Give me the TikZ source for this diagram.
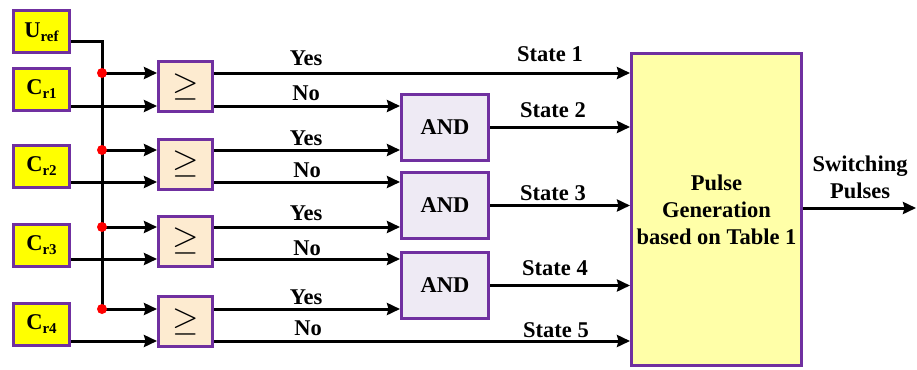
\RequirePackage{fix-cm}
\documentclass[tikz,border=0pt]{standalone}
\usepackage{fontspec}
\setmainfont{Liberation Serif}
\usetikzlibrary{arrows.meta}
\definecolor{pbord}{HTML}{7030A0}
\definecolor{inyel}{HTML}{FFFF00}
\definecolor{cmpfill}{HTML}{FDEBD0}
\definecolor{andfill}{HTML}{EEEAF4}
\definecolor{bigfill}{HTML}{FFFFA8}
\newcommand\lowsub[1]{\raisebox{-4pt}{\fontsize{15}{15}\selectfont #1}}
\begin{document}
\begin{tikzpicture}[x=1pt,y=-1pt,
  box/.style={draw=pbord, line width=3pt, inner sep=0pt, font=\fontsize{22.5}{27}\selectfont\bfseries},
  inbox/.style={box, fill=inyel, minimum width=56pt, minimum height=42pt},
  cmpbox/.style={box, fill=cmpfill, minimum width=54pt, minimum height=50pt, font=\fontsize{34}{34}\selectfont},
  andbox/.style={box, fill=andfill, minimum width=87pt, minimum height=66pt},
  wire/.style={line width=3pt},
  arr/.style={wire, -{Stealth[length=13pt,width=12pt,inset=1.5pt]}},
  lbl/.style={font=\fontsize{22.5}{27}\selectfont\bfseries, anchor=base, inner sep=0pt},
  dot/.style={circle, fill=red, inner sep=0pt, minimum size=10pt}]
\useasboundingbox (0,0) rectangle (917,369);
\fill[white] (0,0) rectangle (917,369);
% inputs
\node[inbox] (uref) at (41.5,32) {U\lowsub{ref}};
\node[inbox] (cr1) at (41.5,89) {C\lowsub{r1}};
\node[inbox] (cr2) at (41.5,166.5) {C\lowsub{r2}};
\node[inbox] (cr3) at (41.5,245) {C\lowsub{r3}};
\node[inbox] (cr4) at (41.5,324.5) {C\lowsub{r4}};
% comparators
\node[cmpbox] (cmp1) at (185.5,86.5) {$\geq$};
\node[cmpbox] (cmp2) at (185.5,164) {$\geq$};
\node[cmpbox] (cmp3) at (185.5,241) {$\geq$};
\node[cmpbox] (cmp4) at (185.5,321.5) {$\geq$};
% AND gates
\node[andbox] (and1) at (445,127) {AND};
\node[andbox] (and2) at (445,205.5) {AND};
\node[andbox] (and3) at (445,285.5) {AND};
% pulse generation
\node[box, fill=bigfill, minimum width=170pt, minimum height=312pt, align=center] (big) at (716.5,209.5) {Pulse\\Generation\\based on Table 1};
% coordinates
\coordinate (uc) at (102,42);
\coordinate (p1) at (102,73);
\coordinate (p2) at (102,150);
\coordinate (p3) at (102,227);
\coordinate (p4) at (102,309);
\coordinate (r1) at (120,106);
\coordinate (r2) at (120,182);
\coordinate (r3) at (120,259);
\coordinate (r4) at (120,341);
\coordinate (outend) at (916,208);
% reference bus
\draw[wire] (uref.east |- uc) -- (uc) -- (p4);
\draw[arr] (p1) -- (cmp1.west |- p1);
\draw[arr] (p2) -- (cmp2.west |- p2);
\draw[arr] (p3) -- (cmp3.west |- p3);
\draw[arr] (p4) -- (cmp4.west |- p4);
% carriers
\draw[arr] (cr1.east |- r1) -- (cmp1.west |- r1);
\draw[arr] (cr2.east |- r2) -- (cmp2.west |- r2);
\draw[arr] (cr3.east |- r3) -- (cmp3.west |- r3);
\draw[arr] (cr4.east |- r4) -- (cmp4.west |- r4);
% comparator outputs
\draw[arr] (cmp1.east |- p1) -- (big.west |- p1);
\draw[arr] (cmp1.east |- r1) -- (and1.west |- r1);
\draw[arr] (cmp2.east |- p2) -- (and1.west |- p2);
\draw[arr] (cmp2.east |- r2) -- (and2.west |- r2);
\draw[arr] (cmp3.east |- p3) -- (and2.west |- p3);
\draw[arr] (cmp3.east |- r3) -- (and3.west |- r3);
\draw[arr] (cmp4.east |- p4) -- (and3.west |- p4);
\draw[arr] (cmp4.east |- r4) -- (big.west |- r4);
% AND outputs
\draw[arr] (and1.east) -- (big.west |- and1.east);
\draw[arr] (and2.east) -- (big.west |- and2.east);
\draw[arr] (and3.east) -- (big.west |- and3.east);
% output
\draw[arr] (big.east |- outend) -- (outend);
% dots
\node[dot] (d1) at (p1) {};
\node[dot] (d2) at (p2) {};
\node[dot] (d3) at (p3) {};
\node[dot] (d4) at (p4) {};
% labels
\node[lbl] (y1) at (306,66) {Yes};
\node[lbl] (n1) at (306,100) {No};
\node[lbl] (y2) at (306,145) {Yes};
\node[lbl] (n2) at (307,177) {No};
\node[lbl] (y3) at (306,220) {Yes};
\node[lbl] (n3) at (307,255) {No};
\node[lbl] (y4) at (306,304) {Yes};
\node[lbl] (n4) at (308,335) {No};
\node[lbl] (s1) at (550,61) {State 1};
\node[lbl] (s2) at (553,117) {State 2};
\node[lbl] (s3) at (553,200) {State 3};
\node[lbl] (s4) at (555,275) {State 4};
\node[lbl] (s5) at (556,337) {State 5};
\node[lbl, anchor=center, align=center] (sw) at (860,177) {Switching\\Pulses};
\end{tikzpicture}
\end{document}
